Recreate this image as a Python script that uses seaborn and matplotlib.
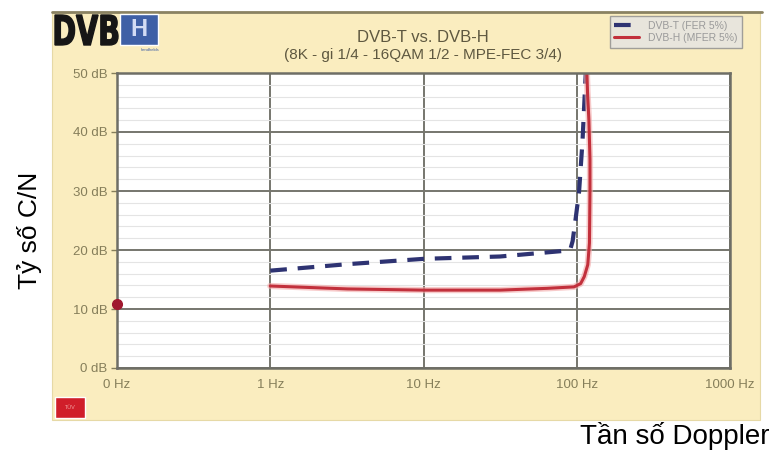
import numpy as np
import seaborn as sns
import matplotlib.pyplot as plt
from matplotlib.patches import Rectangle, PathPatch
from matplotlib.textpath import TextPath
from matplotlib.font_manager import FontProperties
from matplotlib.transforms import Affine2D
from matplotlib.ticker import MultipleLocator, NullLocator

# data (Doppler in Hz, C/N in dB)
dvbt_hz = [1, 3.2, 10, 31.6, 87, 91, 94, 98, 103.5, 109, 114.5]
dvbt_db = [16.5, 17.6, 18.5, 18.9, 19.9, 20.2, 21.5, 25.0, 29.8, 38.4, 50.0]
dvbh_hz = [1, 3.2, 10, 31.6, 64, 96, 106, 112, 118, 121, 122, 122, 120, 117.5, 116.5]
dvbh_db = [13.9, 13.4, 13.2, 13.2, 13.5, 13.75, 14.3, 15.5, 17.5, 21.2, 30.0, 35.4, 42.0, 46.9, 50.0]
legend_labels = ["DVB-T (FER 5%)", "DVB-H (MFER 5%)"]
dot_hz, dot_db = 0.1, 10.8
x_ticks = [0.1, 1, 10, 100, 1000]
x_labels = ["0 Hz", "1 Hz", "10 Hz", "100 Hz", "1000 Hz"]
y_ticks = [0, 10, 20, 30, 40, 50]
y_labels = [f"{v} dB" for v in y_ticks]

sns.set_theme(style="white")
plt.rcParams["font.family"] = ["Liberation Sans", "DejaVu Sans"]

W, H = 773, 450
fig = plt.figure(figsize=(W / 100, H / 100), dpi=100)

def fx(px):
    return px / W

def fy(py):
    return 1 - py / H

# beige frame
fig.patches.append(Rectangle((fx(52), fy(420)), fx(760) - fx(52), fy(12) - fy(420),
                             transform=fig.transFigure, facecolor="#FAEDBF",
                             edgecolor="#E6D9A6", lw=0.8, zorder=-2))
fig.add_artist(plt.Line2D([fx(52), fx(762)], [fy(12), fy(12)], transform=fig.transFigure,
                          color="#8A8262", lw=2, zorder=-1))

ax = fig.add_axes([fx(117), fy(368), fx(730) - fx(117), fy(73) - fy(368)])
ax.set_zorder(1)
ax.set_facecolor("white")

sns.lineplot(x=dvbt_hz, y=dvbt_db, sort=False, estimator=None, ax=ax,
             color="#2E3372", lw=3, linestyle=(0, (4, 2.6)), label=legend_labels[0])
sns.lineplot(x=dvbh_hz, y=dvbh_db, sort=False, estimator=None, ax=ax,
             color="#F3A8A8", lw=4.5, alpha=0.6)
sns.lineplot(x=dvbh_hz, y=dvbh_db, sort=False, estimator=None, ax=ax,
             color="#C2303C", lw=2.2, label=legend_labels[1])
ax.plot([dot_hz], [dot_db], "o", color="#A0182E", ms=7, clip_on=False, zorder=5)

ax.set_xscale("log")
ax.set_xlim(0.1, 1000)
ax.set_ylim(0, 50)
ax.set_xticks(x_ticks)
ax.set_xticklabels(x_labels)
ax.xaxis.set_minor_locator(NullLocator())
ax.set_yticks(y_ticks)
ax.set_yticklabels(y_labels)
ax.yaxis.set_minor_locator(MultipleLocator(2))
ax.grid(True, which="major", color="#76766E", lw=1.4)
ax.grid(True, which="minor", axis="y", color="#E4E4E4", lw=0.8)
ax.set_axisbelow(True)
for s in ax.spines.values():
    s.set_color("#6E6E66")
    s.set_linewidth(1.8)
ax.tick_params(axis="both", which="major", colors="#857E5A", labelsize=9.5,
               length=4, width=1, direction="out", left=True, bottom=False)
ax.tick_params(axis="y", which="minor", length=0)
ax.tick_params(axis="x", pad=4)
ax.tick_params(axis="y", pad=3)
ax.set_xlabel("")
ax.set_ylabel("")

leg = ax.legend(loc="upper right", bbox_to_anchor=(fx(747), fy(11)),
                bbox_transform=fig.transFigure, fontsize=7.5, frameon=True,
                fancybox=False, handlelength=2.4, borderpad=0.45, labelspacing=0.2)
leg.get_frame().set_facecolor("#E4E4E4")
leg.get_frame().set_edgecolor("#8C8C8C")
for t in leg.get_texts():
    t.set_color("#9A9A9A")

# titles
fig.text(fx(423), fy(37), "DVB-T vs. DVB-H", ha="center", va="center",
         fontsize=12, color="#5E5840")
fig.text(fx(423), fy(55), "(8K - gi 1/4 - 16QAM 1/2 - MPE-FEC 3/4)", ha="center",
         va="center", fontsize=11, color="#5E5840")

# DVB-H logo
tp = TextPath((0, 0), "DVB", size=10, prop=FontProperties(family="DejaVu Sans", weight="bold"))
ext = tp.get_extents()
sx = (fx(118) - fx(55)) / ext.width
sy = (fy(15) - fy(45)) / ext.height
tr = Affine2D().translate(-ext.x0, -ext.y0).scale(sx, sy).translate(fx(55), fy(45))
fig.add_artist(PathPatch(tp, transform=tr + fig.transFigure, facecolor="#161616",
                         edgecolor="#161616", lw=1.0))
fig.patches.append(Rectangle((fx(120), fy(45)), fx(158) - fx(120), fy(14) - fy(45),
                             transform=fig.transFigure, facecolor="#3F60A6", zorder=2))
fig.text(fx(139), fy(30), "H", ha="center", va="center", fontsize=17,
         color="#D3DCF4", weight="bold")
fig.text(fx(150), fy(50), "handhelds", ha="center", va="center", fontsize=3,
         color="#3F60A6")

# small red badge
fig.patches.append(Rectangle((fx(55), fy(418)), fx(85) - fx(55), fy(397) - fy(418),
                             transform=fig.transFigure, facecolor="#D01E2A", zorder=2))
fig.text(fx(70), fy(407.5), "TÜV", ha="center", va="center", fontsize=4, color="#F2A0A0")

# outer labels
fig.text(fx(30), fy(230), "Tỷ số C/N", rotation=90, ha="center", va="center",
         fontsize=19, color="black")
fig.text(fx(770), fy(436), "Tần số Doppler", ha="right", va="center",
         fontsize=20, color="black")

fig.savefig("out.png", dpi=100)
